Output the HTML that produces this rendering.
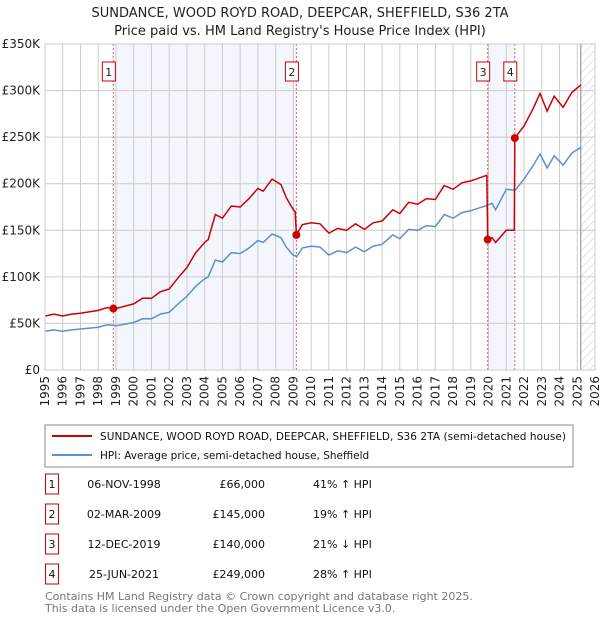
<!DOCTYPE html>
<html><head><meta charset="utf-8"><style>
body{margin:0;background:#fff;font-family:"Liberation Sans","DejaVu Sans",sans-serif;}
#wrap{position:relative;width:600px;height:620px;overflow:hidden}
</style></head><body><div id="wrap">
<svg id="chart" width="600" height="620" xmlns="http://www.w3.org/2000/svg" font-family="DejaVu Sans, Liberation Sans, sans-serif">
<defs><pattern id="hatch" width="6" height="6" patternUnits="userSpaceOnUse" patternTransform="rotate(45)"><line x1="0" y1="0" x2="0" y2="6" stroke="#ccc" stroke-width="1"/></pattern></defs>
<text x="300" y="17" text-anchor="middle" font-size="13" fill="#222">SUNDANCE, WOOD ROYD ROAD, DEEPCAR, SHEFFIELD, S36 2TA</text>
<text x="300" y="35" text-anchor="middle" font-size="13" fill="#222">Price paid vs. HM Land Registry's House Price Index (HPI)</text>
<g id="plot"></g>
<rect x="45" y="425" width="528" height="42" fill="#fff" stroke="#888"/>
<line x1="52" y1="436" x2="92" y2="436" stroke="#cc0000" stroke-width="2"/>
<text x="100" y="440" font-size="10.5" textLength="466" fill="#111">SUNDANCE, WOOD ROYD ROAD, DEEPCAR, SHEFFIELD, S36 2TA (semi-detached house)</text>
<line x1="52" y1="455" x2="92" y2="455" stroke="#5b8fd4" stroke-width="2"/>
<text x="100" y="459" font-size="10.5" fill="#111">HPI: Average price, semi-detached house, Sheffield</text>
<g id="table" font-size="11" fill="#111"></g>
<text x="45" y="600" font-size="11" fill="#777">Contains HM Land Registry data © Crown copyright and database right 2025.</text>
<text x="45" y="612" font-size="11" fill="#777">This data is licensed under the Open Government Licence v3.0.</text>
</svg></div>
<script>
const hpiYears=[1995,1995.5,1996,1996.5,1997,1998,1998.5,1999,2000,2000.5,2001,2001.5,2002,2002.5,2003,2003.5,2004,2004.2,2004.6,2005,2005.5,2006,2006.5,2007,2007.3,2007.8,2008.3,2008.6,2009,2009.2,2009.5,2010,2010.5,2011,2011.5,2012,2012.5,2013,2013.5,2014,2014.6,2015,2015.5,2016,2016.5,2017,2017.5,2018,2018.5,2019,2019.8,2020.2,2020.4,2021,2021.5,2022,2022.5,2022.9,2023.3,2023.7,2024.2,2024.7,2025.2];
const hpiValues=[41.5,43,41.5,43,44,46,48.5,47.5,51,55,55,60,62,71,79,90,98,100,118,116,126,125,131,139,137,146,142,132,123,122,131,133,132,123.5,128,126,132,127,133,135,145,141,151,150,155,154,167,163,169,171,176,179,172,194,193,205,219,232,217,230,220,233,239];
const redYears=[1995,1995.5,1996,1996.5,1997,1998,1998.5,1998.85,1999,2000,2000.5,2001,2001.5,2002,2002.5,2003,2003.5,2004,2004.2,2004.6,2005,2005.5,2006,2006.5,2007,2007.3,2007.8,2008.3,2008.6,2009,2009.1,2009.17,2009.5,2010,2010.5,2011,2011.5,2012,2012.5,2013,2013.5,2014,2014.6,2015,2015.5,2016,2016.5,2017,2017.5,2018,2018.5,2019,2019.9,2019.95,2020.2,2020.4,2021,2021.45,2021.48,2022,2022.5,2022.9,2023.3,2023.7,2024.2,2024.7,2025.2];
const redValues=[58,60,58,60,61,64,67,66,66,71,77,77,84,87,99,110,126,137,140,167,163,176,175,184,195,192,205,199,185,172,170,145,156,158,157,147,152,150,157,151,158,160,172,168,180,178,184,183,198,194,201,203,209,140,142,137,150,150,249,262,280,297,278,294,282,298,306];
const saleYears=[1998.85,2009.17,2019.95,2021.48];
const saleValues=[66,145,140,249];
const saleLabels=["1","2","3","4"];
const saleDates=["06-NOV-1998","02-MAR-2009","12-DEC-2019","25-JUN-2021"];
const salePrices=["£66,000","£145,000","£140,000","£249,000"];
const saleHpi=["41% ↑ HPI","19% ↑ HPI","21% ↓ HPI","28% ↑ HPI"];
const yTicks=[0,50,100,150,200,250,300,350];
const yTickLabels=["£0","£50K","£100K","£150K","£200K","£250K","£300K","£350K"];
const xTicks=[1995,1996,1997,1998,1999,2000,2001,2002,2003,2004,2005,2006,2007,2008,2009,2010,2011,2012,2013,2014,2015,2016,2017,2018,2019,2020,2021,2022,2023,2024,2025,2026];

const NS="http://www.w3.org/2000/svg";
const X0=45,X1=595,Y0=370,Y1=44;
const xs=y=>X0+(y-1995)/(2026-1995)*(X1-X0);
const ys=v=>Y0-v/350*(Y0-Y1);
const plot=document.getElementById('plot');
function mk(tag,attrs,parent){const e=document.createElementNS(NS,tag);for(const k in attrs)e.setAttribute(k,attrs[k]);(parent||plot).appendChild(e);return e;}

let bg=mk('rect',{x:X0,y:Y1,width:X1-X0,height:Y0-Y1,fill:'#fff'});


[[0,1],[2,3]].forEach((p,i)=>{
  let r=mk('rect',{x:xs(saleYears[p[0]]),y:Y1,width:xs(saleYears[p[1]])-xs(saleYears[p[0]]),height:Y0-Y1,fill:'#f3f6fd'});
  
  
});
let ht=mk('rect',{x:xs(2025.2),y:Y1,width:X1-xs(2025.2),height:Y0-Y1,fill:'url(#hatch)'});


xTicks.forEach(t=>{
  let l=mk('line',{x1:xs(t),x2:xs(t),y1:Y1,y2:Y0,stroke:'#ccc','stroke-width':1});
  
  
  let tx=mk('text',{x:0,y:0,transform:`translate(${xs(t)+4},${Y0+6}) rotate(-90)`,'text-anchor':'end','font-size':12,fill:'#222'});
  tx.textContent=t;
  
  
});
yTicks.forEach((t,i)=>{
  let l=mk('line',{x1:X0,x2:X1,y1:ys(t),y2:ys(t),stroke:'#ccc','stroke-width':1});
  
  
  let tx=mk('text',{x:40,y:ys(t)+4,'text-anchor':'end','font-size':12,fill:'#222'});
  tx.textContent=yTickLabels[i];
  
  
});
let vl=mk('line',{x1:xs(2025.2),x2:xs(2025.2),y1:Y1,y2:Y0,stroke:'#888','stroke-width':1});


saleYears.forEach((y,i)=>{
  let l=mk('line',{x1:xs(y),x2:xs(y),y1:Y1,y2:Y0,stroke:'#e06060','stroke-width':1,'stroke-dasharray':'2,2'});
  
  
});
let hp=mk('path',{d:hpiYears.map((y,i)=>(i?'L':'M')+xs(y).toFixed(1)+','+ys(hpiValues[i]).toFixed(1)).join(''),fill:'none',stroke:'#5b8fd4','stroke-width':1.5});


let rp=mk('path',{d:redYears.map((y,i)=>(i?'L':'M')+xs(y).toFixed(1)+','+ys(redValues[i]).toFixed(1)).join(''),fill:'none',stroke:'#cc0000','stroke-width':1.5});


saleYears.forEach((y,i)=>{
  let c=mk('circle',{cx:xs(y),cy:ys(saleValues[i]),r:4,fill:'#cc0000'});
  
  
  let b=mk('rect',{x:xs(y)-11,y:62,width:13,height:19,fill:'#fff',stroke:'#cc0000'});
  
  
  let t=mk('text',{x:xs(y)-4.5,y:76,'text-anchor':'middle','font-size':11,fill:'#222'});
  t.textContent=saleLabels[i];
  
  
});
let fr=mk('path',{d:`M${X0},${Y1}H${X1}V${Y0}H${X0}Z`,fill:'none',stroke:'#ccc'});



const tbl=document.getElementById('table');
saleLabels.forEach((s,i)=>{
  const yy=487+i*30;
  let b=mk('rect',{x:45.5,y:yy-13,width:13,height:20,fill:'#fff',stroke:'#cc0000'},tbl);
  
  
  let t=mk('text',{x:52,y:yy+1,'text-anchor':'middle'},tbl);t.textContent=s;
  
  
  let d=mk('text',{x:124,y:yy+1,'text-anchor':'middle'},tbl);d.textContent=saleDates[i];
  
  
  let p=mk('text',{x:265,y:yy+1,'text-anchor':'end'},tbl);p.textContent=salePrices[i];
  
  
  let h=mk('text',{x:313,y:yy+1},tbl);h.textContent=saleHpi[i];
  
  
});
</script></body></html>
